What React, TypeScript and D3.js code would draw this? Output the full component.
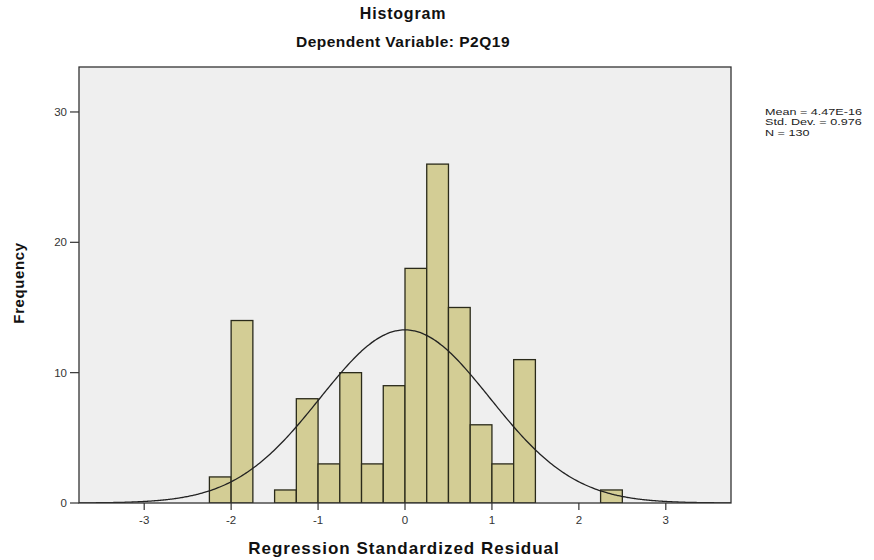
import React from "react";
import * as d3 from "d3";

const binStarts = [-2.25, -2.0, -1.75, -1.5, -1.25, -1.0, -0.75, -0.5, -0.25, 0.0, 0.25, 0.5, 0.75, 1.0, 1.25, 1.5, 1.75, 2.0, 2.25];
const binCounts = [2, 14, 0, 1, 8, 3, 10, 3, 9, 18, 26, 15, 6, 3, 11, 0, 0, 0, 1];
const binWidth = 0.25;
const xTicks = [-3, -2, -1, 0, 1, 2, 3];
const yTicks = [0, 10, 20, 30];
const statsLines = ["Mean = 4.47E-16", "Std. Dev. = 0.976", "N = 130"];
const mean = 4.47e-16;
const sd = 0.976;
const n = 130;

const W = 874;
const H = 560;
const left = 79, right = 731, top = 67, bottom = 503;

export default function App() {
  const x = d3.scaleLinear().domain([-3.75, 3.75]).range([left, right]);
  const y = d3.scaleLinear().domain([0, 33.45]).range([bottom, top]);
  const curvePts = d3.range(-3.75, 3.7501, 0.02).map((v) => [v, n * binWidth * (Math.exp(-0.5 * ((v - mean) / sd) ** 2) / (sd * Math.sqrt(2 * Math.PI)))] as [number, number]);
  const line = d3.line<[number, number]>().x((d) => x(d[0])).y((d) => y(d[1])).curve(d3.curveBasis);
  const font = "Liberation Sans, Arial, sans-serif";
  return (
    <svg width={W} height={H} style={{ position: "absolute", left: 0, top: 0, background: "#fff" }} fontFamily={font}>
      <rect x={0} y={0} width={W} height={H} fill="#fff" />
      <text x={403} y={19} textAnchor="middle" fontWeight="bold" fontSize={16} letterSpacing={0.8} fill="#111">Histogram</text>
      <text x={403} y={47} textAnchor="middle" fontWeight="bold" fontSize={15.5} letterSpacing={0.5} fill="#111">Dependent Variable: P2Q19</text>
      <defs>
        <clipPath id="clip"><rect x={left} y={top} width={right - left} height={bottom - top} /></clipPath>
      </defs>
      <rect x={left} y={top} width={right - left} height={bottom - top} fill="#efefef" />
      <g clipPath="url(#clip)">
        {binStarts.map((s, i) =>
          binCounts[i] > 0 ? (
            <rect key={i} x={x(s)} y={y(binCounts[i])} width={x(s + binWidth) - x(s)} height={y(0) - y(binCounts[i])} fill="#d3cd95" stroke="#2a2a1a" strokeWidth={1.3} />
          ) : null
        )}
      </g>
      <path d={line(curvePts) || ""} fill="none" stroke="#222" strokeWidth={1.3} clipPath="url(#clip)" />
      <rect x={left} y={top} width={right - left} height={bottom - top} fill="none" stroke="#333" strokeWidth={1.3} />
      {yTicks.map((t) => (
        <g key={t}>
          <line x1={left - 9} x2={left} y1={y(t)} y2={y(t)} stroke="#333" strokeWidth={1.2} />
          <text x={left - 12} y={y(t) + 4} textAnchor="end" fontSize={11.5} fill="#333">{t}</text>
        </g>
      ))}
      {xTicks.map((t) => (
        <g key={t}>
          <line x1={x(t)} x2={x(t)} y1={bottom} y2={bottom + 7} stroke="#333" strokeWidth={1.2} />
          <text x={x(t)} y={bottom + 21} textAnchor="middle" fontSize={11.5} fill="#333">{t}</text>
        </g>
      ))}
      <text x={404} y={554} textAnchor="middle" fontWeight="bold" fontSize={17} letterSpacing={1} fill="#111">Regression Standardized Residual</text>
      <text transform={`translate(24,${(top + bottom) / 2 - 2}) rotate(-90)`} textAnchor="middle" fontWeight="bold" fontSize={15} letterSpacing={0.6} fill="#111">Frequency</text>
      <g transform="translate(765,0) scale(1.4,1)">
        {statsLines.map((s, i) => (
          <text key={i} x={0} y={115 + i * 10.5} fontSize={9} fill="#222">{s}</text>
        ))}
      </g>
    </svg>
  );
}
